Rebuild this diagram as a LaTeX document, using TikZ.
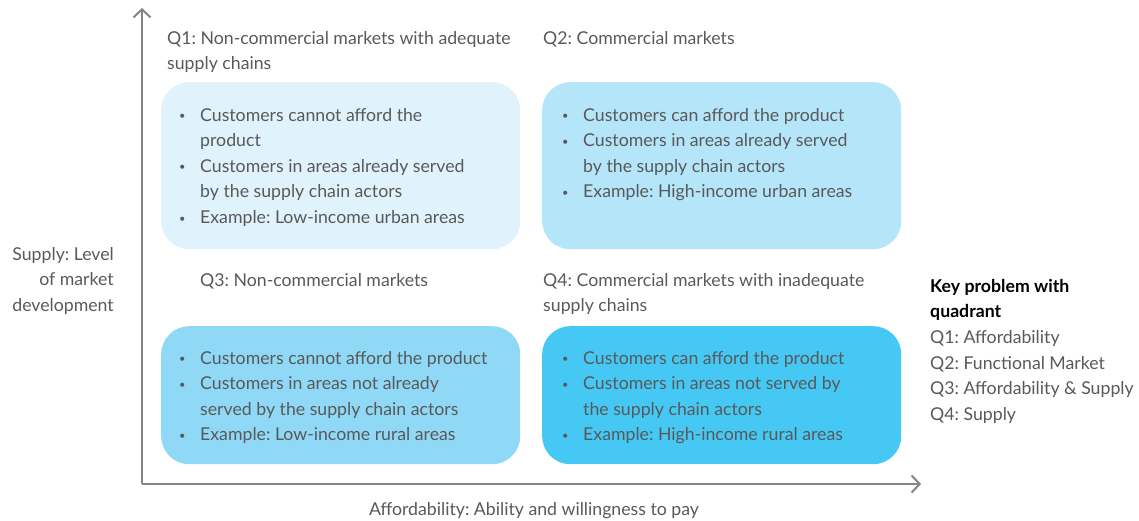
\documentclass[tikz,border=0pt]{standalone}
\usepackage{fontspec}
\setmainfont{Lato}
\frenchspacing
\usetikzlibrary{arrows.meta}
\definecolor{txtgrey}{HTML}{595959}
\definecolor{axisgrey}{HTML}{858585}
\definecolor{qonecol}{HTML}{E0F2FC}
\definecolor{qtwocol}{HTML}{B5E5F8}
\definecolor{qthreecol}{HTML}{8FD8F6}
\definecolor{qfourcol}{HTML}{45C8F4}
\newcommand{\bul}{\raisebox{1.5pt}{\fontsize{11}{11}\selectfont\textbullet}}% small grey dot
\newcommand{\quadlist}[1]{\begin{tabular}{@{}p{21pt}@{}l@{}}#1\end{tabular}}
\newcommand{\keyhead}[1]{\textcolor{black}{\textbf{#1}}}

\begin{document}
\begin{tikzpicture}[x=1pt,y=-1pt,
	every node/.style={text=txtgrey,inner sep=0pt,font=\fontsize{17.7}{25.6}\selectfont},
	quadbox/.style={rounded corners=28pt,minimum width=359pt,minimum height=167pt,anchor=north west},
	listtext/.style={anchor=north west,align=left},
	axis/.style={draw=axisgrey,line width=2pt,-{Straight Barb[length=8pt,width=17pt,line width=2pt]}}]
	\useasboundingbox (0,0) rectangle (1139,521);
	
	\coordinate (origin) at (142,484);
	\coordinate (ytop)   at (142,8);
	\coordinate (xend)   at (921,484);
	\draw[axis] (origin)--(ytop);		%supply axis
	\draw[axis] (origin)--(xend);		%affordability axis
	
	\node[quadbox,fill=qonecol]                       (qone)   at (161,82)  {};
	\node[quadbox,fill=qtwocol]                       (qtwo)   at (542,82)  {};
	\node[quadbox,fill=qthreecol,minimum height=138pt] (qthree) at (161,326) {};
	\node[quadbox,fill=qfourcol,minimum height=138pt]  (qfour)  at (542,326) {};
	
	\node[listtext] (qonetitle)   at (167,31)  {Q1: Non-commercial markets with adequate\\supply chains};
	\node[listtext] (qtwotitle)   at (543,31)  {Q2: Commercial markets};
	\node[listtext] (qthreetitle) at (200,273) {Q3: Non-commercial markets};
	\node[listtext] (qfourtitle)  at (543,273) {Q4: Commercial markets with inadequate\\supply chains};
	%
	\node[listtext] (qonelist) at (179,103) {\quadlist{
		\bul & Customers cannot afford the\\
		     & product\\
		\bul & Customers in areas already served\\
		     & by the supply chain actors\\
		\bul & Example: Low-income urban areas}};
	\node[listtext] (qtwolist) at (562,103) {\quadlist{
		\bul & Customers can afford the product\\
		\bul & Customers in areas already served\\
		     & by the supply chain actors\\
		\bul & Example: High-income urban areas}};
	\node[listtext] (qthreelist) at (179,346) {\quadlist{
		\bul & Customers cannot afford the product\\
		\bul & Customers in areas not already\\
		     & served by the supply chain actors\\
		\bul & Example: Low-income rural areas}};
	\node[listtext] (qfourlist) at (562,346) {\quadlist{
		\bul & Customers can afford the product\\
		\bul & Customers in areas not served by\\
		     & the supply chain actors\\
		\bul & Example: High-income rural areas}};
	
	\node[anchor=north east,align=right] (supplylabel) at (114,247) {Supply: Level\\of market\\development};
	\node[anchor=north] (afflabel) at (534,502) {Affordability: Ability and willingness to pay};
	
	\node[listtext] (keylabel) at (930,279) {\keyhead{Key problem with}\\\keyhead{quadrant}\\Q1: Affordability\\Q2: Functional Market\\Q3: Affordability \& Supply\\Q4: Supply};
\end{tikzpicture}
\end{document}
